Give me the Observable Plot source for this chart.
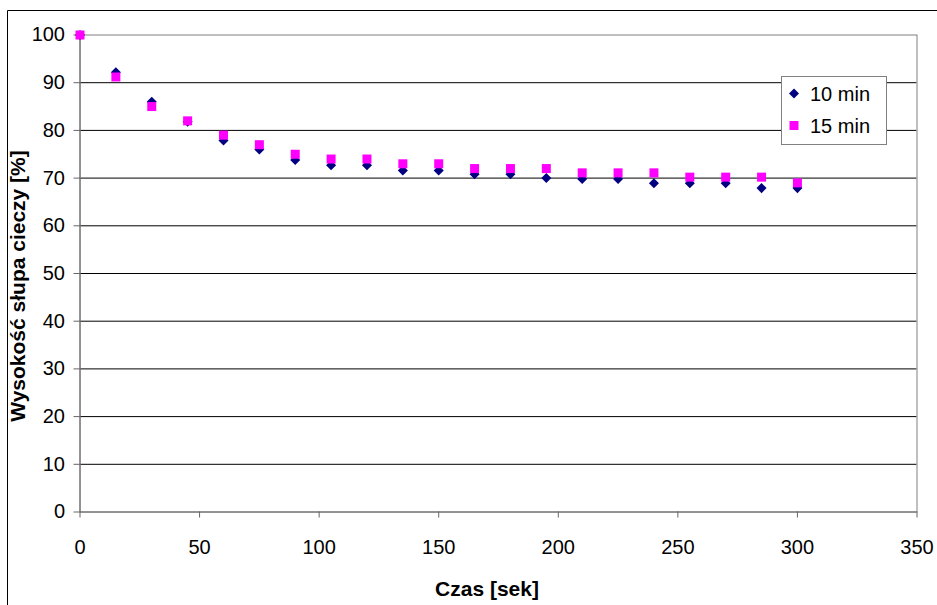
<!DOCTYPE html>
<html>
<head>
<meta charset="utf-8">
<script src="https://cdn.jsdelivr.net/npm/d3@7"></script>
<script src="https://cdn.jsdelivr.net/npm/@observablehq/plot@0.6"></script>
<style>
  html, body { margin: 0; padding: 0; background: #fff; }
  #chart { width: 937px; height: 605px; overflow: hidden; }
</style>
</head>
<body>
<div id="chart"></div>
<script>
const times = [0, 15, 30, 45, 60, 75, 90, 105, 120, 135, 150, 165, 180, 195, 210, 225, 240, 255, 270, 285, 300];
const series10 = [100, 92.2, 86, 81.8, 77.9, 76, 73.8, 72.7, 72.7, 71.6, 71.6, 70.8, 70.8, 70, 69.8, 69.8, 68.9, 68.9, 68.9, 67.9, 67.9];
const series15 = [100, 91.2, 85, 82, 79, 77, 75, 74, 74, 73, 73, 72, 72, 72, 71.1, 71.1, 71.1, 70.2, 70.2, 70.2, 69];
const seriesNames = ["10 min", "15 min"];
const seriesColors = ["#000080", "#FF00FF"];
const xTicks = [0, 50, 100, 150, 200, 250, 300, 350];
const yTicks = [0, 10, 20, 30, 40, 50, 60, 70, 80, 90, 100];
const xTitle = "Czas [sek]";
const yTitle = "Wysokość słupa cieczy [%]";

const data10 = times.map((t, i) => ({t, v: series10[i]}));
const data15 = times.map((t, i) => ({t, v: series15[i]}));

// diamond = rotated square
const diamondSymbol = {
  draw(context, size) {
    const h = Math.sqrt(size / 2);
    context.moveTo(0, -h);
    context.lineTo(h, 0);
    context.lineTo(0, h);
    context.lineTo(-h, 0);
    context.closePath();
  }
};

const W = 937, H = 605;
const mL = 79.5, mR = 20.5, mT = 34.5, mB = 93.5;

const chart = Plot.plot({
  width: W,
  height: H,
  marginLeft: mL,
  marginRight: mR,
  marginTop: mT,
  marginBottom: mB,
  x: {domain: [0, 350]},
  y: {domain: [0, 100]},
  style: {fontFamily: "'Liberation Sans', Arial, sans-serif", fontSize: "20px", background: "#fff", color: "#000", overflow: "hidden"},
  marks: [
    Plot.ruleY(yTicks.filter(d => d > 0 && d < 100), {stroke: "#000", strokeWidth: 1}),
    Plot.frame({stroke: "#808080"}),
    Plot.ruleY([0], {stroke: "#666"}),
    Plot.ruleX([0], {stroke: "#666"}),
    Plot.axisX({ticks: xTicks, tickSize: 6, tickPadding: 22, stroke: "#666", fill: "#000", label: null, fontSize: 20}),
    Plot.axisY({ticks: yTicks, tickSize: 6, tickPadding: 9, stroke: "#666", fill: "#000", label: null, fontSize: 20}),
    Plot.dot(data10, {x: "t", y: "v", symbol: diamondSymbol, r: 4, fill: seriesColors[0], stroke: "none"}),
    Plot.dot(data15, {x: "t", y: "v", symbol: "square", r: 5.08, fill: seriesColors[1], stroke: "none"})
  ]
});

document.getElementById("chart").appendChild(chart);

const svg = d3.select(chart);
// outer chart-area frame
svg.append("line").attr("x1", 7.5).attr("y1", 10.5).attr("x2", W).attr("y2", 10.5).attr("stroke", "#000");
svg.append("line").attr("x1", 7.5).attr("y1", 10.5).attr("x2", 7.5).attr("y2", H).attr("stroke", "#000");

// axis titles
svg.append("text")
  .attr("x", 487).attr("y", 596)
  .attr("text-anchor", "middle")
  .attr("font-weight", "bold").attr("font-size", 21)
  .attr("fill", "#000")
  .text(xTitle);
svg.append("text")
  .attr("transform", "translate(25,286) rotate(-90)")
  .attr("text-anchor", "middle")
  .attr("font-weight", "bold").attr("font-size", 21)
  .attr("fill", "#000")
  .text(yTitle);

// legend
const lg = svg.append("g");
lg.append("rect").attr("x", 781.5).attr("y", 76.5).attr("width", 105).attr("height", 68)
  .attr("fill", "#fff").attr("stroke", "#808080");
const sym = [d3.symbol().type(diamondSymbol).size(Math.PI * 16)(), d3.symbol().type(d3.symbolSquare).size(81)()];
const rowY = [93.5, 125.5];
seriesNames.forEach((name, i) => {
  lg.append("path").attr("d", sym[i]).attr("transform", `translate(794,${rowY[i]})`).attr("fill", seriesColors[i]);
  lg.append("text").attr("x", 810).attr("y", rowY[i] + 7.5).attr("text-anchor", "start")
    .attr("font-size", 20).attr("fill", "#000").text(name);
});
</script>
</body>
</html>
